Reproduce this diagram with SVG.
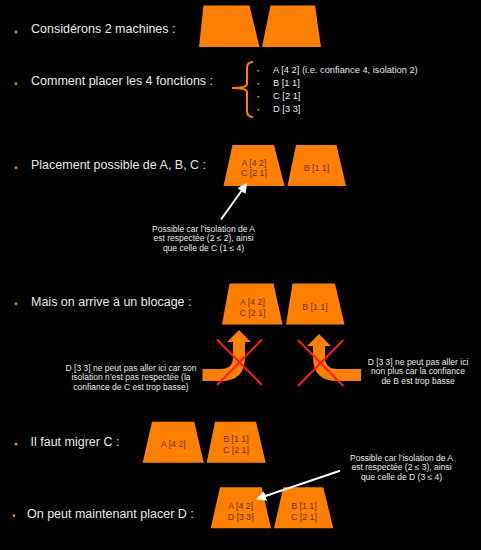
<svg xmlns="http://www.w3.org/2000/svg" width="481" height="550" viewBox="0 0 481 550">
<defs>
<style>
.main{font-family:"Liberation Sans",Arial,sans-serif;font-size:12.5px;fill:#e8e8e8}
.small{font-family:"Liberation Sans",Arial,sans-serif;font-size:9.3px;fill:#e8e8e8}
.cap{font-family:"Liberation Sans",Arial,sans-serif;font-size:8.5px;fill:#e8e8e8;text-anchor:middle}
.in{font-family:"Liberation Sans",Arial,sans-serif;font-size:8.8px;fill:#6b3300;text-anchor:middle}
.tr{fill:#ff8000}
.bul{fill:#ff8000}
.cross{stroke:#ff1a1a;stroke-width:2;fill:none}
.ptr{stroke:#ffffff;stroke-width:2;fill:none;marker-end:url(#ah)}
</style>
<marker id="ah" viewBox="0 0 10 10" refX="8" refY="5" markerWidth="5" markerHeight="5" orient="auto" markerUnits="strokeWidth">
<path d="M0,0 L10,5 L0,10 Z" fill="#ffffff"/>
</marker>
</defs>
<rect width="481" height="550" fill="#000"/>

<g id="row1">
<rect class="bul" x="14.8" y="30.8" width="2.4" height="2.4"/>
<text class="main" x="31" y="33.3">Considérons 2 machines :</text>
<polygon class="tr" points="203.5,5.5 249.5,5.5 259.5,47 199,47"/>
<polygon class="tr" points="270.5,5.5 315,5.5 321,47 262,47"/>
</g>

<g id="row2">
<rect class="bul" x="14.8" y="82.5" width="2.4" height="2.4"/>
<text class="main" x="31" y="85">Comment placer les 4 fonctions :</text>
<path d="M253,62 Q247,62 247,68 L247,84 Q247,88 232,88 Q247,88 247,92 L247,111 Q247,117 253,117" fill="none" stroke="#ff8000" stroke-width="2"/>
<rect class="bul" x="257.5" y="70" width="1.6" height="1.6"/>
<rect class="bul" x="257.5" y="83" width="1.6" height="1.6"/>
<rect class="bul" x="257.5" y="96" width="1.6" height="1.6"/>
<rect class="bul" x="257.5" y="109" width="1.6" height="1.6"/>
<text class="small" x="273" y="72.5">A [4 2] (i.e. confiance 4, isolation 2)</text>
<text class="small" x="273" y="85.5">B [1 1]</text>
<text class="small" x="273" y="98.5">C [2 1]</text>
<text class="small" x="273" y="111.5">D [3 3]</text>
</g>

<g id="row3">
<rect class="bul" x="14.8" y="166.5" width="2.4" height="2.4"/>
<text class="main" x="31" y="169.3">Placement possible de A, B, C :</text>
<polygon class="tr" points="232.5,145 274,145 284.5,186 223.5,186"/>
<text class="in" x="254" y="165.5">A [4 2]</text>
<text class="in" x="254" y="176">C [2 1]</text>
<polygon class="tr" points="296,145 336.5,145 346,186 287.5,186"/>
<text class="in" x="316.5" y="170.5">B [1 1]</text>
<text class="cap" x="203.5" y="231.5">Possible car l’isolation de A</text>
<text class="cap" x="203.5" y="241">est respectée (2 ≤ 2), ainsi</text>
<text class="cap" x="203.5" y="250.5">que celle de C (1 ≤ 4)</text>
</g>

<g id="row4">
<rect class="bul" x="14.8" y="302.5" width="2.4" height="2.4"/>
<text class="main" x="31" y="305.5">Mais on arrive à un blocage :</text>
<polygon class="tr" points="229.5,283.5 273.5,283.5 282.5,324.5 222,324.5"/>
<text class="in" x="252.5" y="305.3">A [4 2]</text>
<text class="in" x="252.5" y="315.5">C [2 1]</text>
<polygon class="tr" points="292.5,283.5 335,283.5 344.5,324.5 286,324.5"/>
<text class="in" x="315" y="310">B [1 1]</text>
<path class="tr" d="M202.5,369 H221 Q233,369 233,357 V342 H227 L239,330 L251,342 H245 V357 Q245,381 221,381 H202.5 Z"/>
<path class="tr" d="M361,369 H337 Q325,369 325,357 V346 H331 L319,334 L307,346 H313 V357 Q313,381 337,381 H361 Z"/>
<text class="cap" x="131" y="370.5">D [3 3] ne peut pas aller ici car son</text>
<text class="cap" x="131" y="380">isolation n’est pas respectée (la</text>
<text class="cap" x="131" y="389.5">confiance de C est trop basse)</text>
<text class="cap" x="418" y="364.5">D [3 3] ne peut pas aller ici</text>
<text class="cap" x="418" y="374.2">non plus car la confiance</text>
<text class="cap" x="418" y="384">de B est trop basse</text>
</g>

<g id="row5">
<rect class="bul" x="14.8" y="443" width="2.4" height="2.4"/>
<text class="main" x="30.5" y="445.7">Il faut migrer C :</text>
<polygon class="tr" points="152,421.7 194.3,421.7 203.7,462.7 142.7,462.7"/>
<text class="in" x="173.3" y="446.7">A [4 2]</text>
<polygon class="tr" points="215,421.7 256,421.7 265.7,462.7 206.7,462.7"/>
<text class="in" x="236" y="442.3">B [1 1]</text>
<text class="in" x="236" y="453.3">C [2 1]</text>
</g>

<g id="row6">
<rect class="bul" x="12.8" y="514.5" width="2.4" height="2.4"/>
<text class="main" x="27" y="517.7">On peut maintenant placer D :</text>
<polygon class="tr" points="220,487.3 261.7,487.3 271,528.3 210.7,528.3"/>
<text class="in" x="240.7" y="509">A [4 2]</text>
<text class="in" x="240.7" y="520">D [3 3]</text>
<polygon class="tr" points="283.3,487.3 323.3,487.3 333.3,528.3 274,528.3"/>
<text class="in" x="304" y="509">B [1 1]</text>
<text class="in" x="304" y="520">C [2 1]</text>
<text class="cap" x="401.5" y="460.5">Possible car l’isolation de A</text>
<text class="cap" x="401.5" y="470">est respectée (2 ≤ 3), ainsi</text>
<text class="cap" x="401.5" y="479.5">que celle de D (3 ≤ 4)</text>
</g>

<g id="connectors">
<line class="ptr" x1="221" y1="219.5" x2="246" y2="184.5"/>
<line class="ptr" x1="340" y1="470.7" x2="258" y2="498.5"/>
<line class="cross" x1="217" y1="339.5" x2="262" y2="385"/>
<line class="cross" x1="262" y1="339.5" x2="217" y2="385"/>
<line class="cross" x1="298" y1="340" x2="343.3" y2="386"/>
<line class="cross" x1="343.3" y1="340" x2="298" y2="386"/>
</g>
</svg>
